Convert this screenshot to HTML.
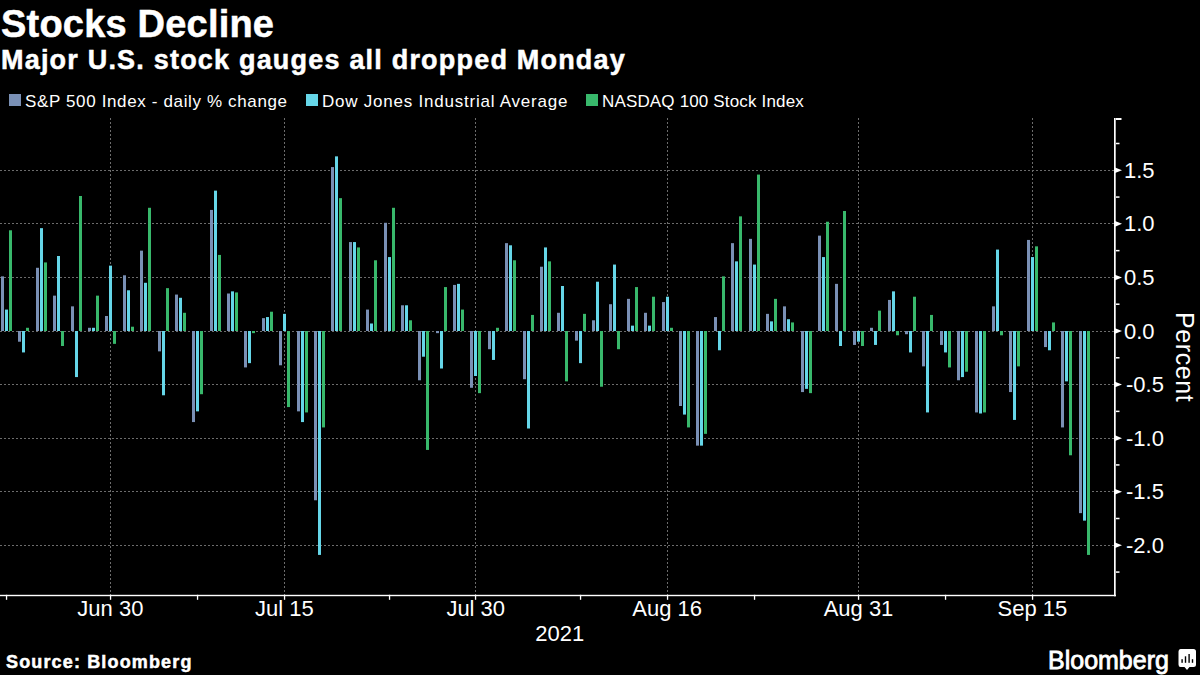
<!DOCTYPE html>
<html><head><meta charset="utf-8">
<style>
html,body{margin:0;padding:0;background:#000;width:1200px;height:675px;overflow:hidden;}
body{position:relative;font-family:"Liberation Sans",sans-serif;color:#fff;}
.t{position:absolute;white-space:nowrap;line-height:1;}
.b{-webkit-text-stroke:0.5px #fff;}
.xl{position:absolute;width:120px;text-align:center;font-size:22px;line-height:1;white-space:nowrap;}
.yl{position:absolute;font-size:22px;line-height:1;white-space:nowrap;}
svg{position:absolute;left:0;top:0;}
.sq{position:absolute;width:12px;height:12px;}
</style></head><body>
<svg width="1200" height="675" viewBox="0 0 1200 675" shape-rendering="auto">
<line x1="0" y1="170.5" x2="1114" y2="170.5" stroke="#6c6c6c" stroke-width="1" stroke-dasharray="2,2"/>
<line x1="0" y1="223.5" x2="1114" y2="223.5" stroke="#6c6c6c" stroke-width="1" stroke-dasharray="2,2"/>
<line x1="0" y1="277.5" x2="1114" y2="277.5" stroke="#6c6c6c" stroke-width="1" stroke-dasharray="2,2"/>
<line x1="0" y1="331.5" x2="1114" y2="331.5" stroke="#6c6c6c" stroke-width="1" stroke-dasharray="2,2"/>
<line x1="0" y1="384.5" x2="1114" y2="384.5" stroke="#6c6c6c" stroke-width="1" stroke-dasharray="2,2"/>
<line x1="0" y1="438.5" x2="1114" y2="438.5" stroke="#6c6c6c" stroke-width="1" stroke-dasharray="2,2"/>
<line x1="0" y1="491.5" x2="1114" y2="491.5" stroke="#6c6c6c" stroke-width="1" stroke-dasharray="2,2"/>
<line x1="0" y1="545.5" x2="1114" y2="545.5" stroke="#6c6c6c" stroke-width="1" stroke-dasharray="2,2"/>
<line x1="110.5" y1="118" x2="110.5" y2="595" stroke="#6c6c6c" stroke-width="1" stroke-dasharray="2,2"/>
<line x1="284.5" y1="118" x2="284.5" y2="595" stroke="#6c6c6c" stroke-width="1" stroke-dasharray="2,2"/>
<line x1="475.5" y1="118" x2="475.5" y2="595" stroke="#6c6c6c" stroke-width="1" stroke-dasharray="2,2"/>
<line x1="667.5" y1="118" x2="667.5" y2="595" stroke="#6c6c6c" stroke-width="1" stroke-dasharray="2,2"/>
<line x1="858.5" y1="118" x2="858.5" y2="595" stroke="#6c6c6c" stroke-width="1" stroke-dasharray="2,2"/>
<line x1="1032.5" y1="118" x2="1032.5" y2="595" stroke="#6c6c6c" stroke-width="1" stroke-dasharray="2,2"/>
<rect x="1.00" y="276.36" width="3" height="54.64" fill="#7a90b5"/>
<rect x="5.00" y="309.57" width="3" height="21.43" fill="#66d6e8"/>
<rect x="9.00" y="230.29" width="3" height="100.71" fill="#38b86b"/>
<rect x="18.00" y="331.00" width="3" height="10.71" fill="#7a90b5"/>
<rect x="22.00" y="331.00" width="3" height="21.43" fill="#66d6e8"/>
<rect x="26.00" y="327.79" width="3" height="3.21" fill="#38b86b"/>
<rect x="36.00" y="267.79" width="3" height="63.21" fill="#7a90b5"/>
<rect x="40.00" y="228.15" width="3" height="102.85" fill="#66d6e8"/>
<rect x="44.00" y="262.43" width="3" height="68.57" fill="#38b86b"/>
<rect x="53.00" y="295.64" width="3" height="35.36" fill="#7a90b5"/>
<rect x="57.00" y="256.00" width="3" height="75.00" fill="#66d6e8"/>
<rect x="61.00" y="331.00" width="3" height="15.00" fill="#38b86b"/>
<rect x="71.00" y="306.36" width="3" height="24.64" fill="#7a90b5"/>
<rect x="75.00" y="331.00" width="3" height="46.07" fill="#66d6e8"/>
<rect x="79.00" y="196.00" width="3" height="135.00" fill="#38b86b"/>
<rect x="88.00" y="327.79" width="3" height="3.21" fill="#7a90b5"/>
<rect x="92.00" y="327.79" width="3" height="3.21" fill="#66d6e8"/>
<rect x="96.00" y="295.64" width="3" height="35.36" fill="#38b86b"/>
<rect x="105.00" y="316.00" width="3" height="15.00" fill="#7a90b5"/>
<rect x="109.00" y="265.64" width="3" height="65.36" fill="#66d6e8"/>
<rect x="113.00" y="331.00" width="3" height="12.86" fill="#38b86b"/>
<rect x="123.00" y="275.29" width="3" height="55.71" fill="#7a90b5"/>
<rect x="127.00" y="290.29" width="3" height="40.71" fill="#66d6e8"/>
<rect x="131.00" y="326.71" width="3" height="4.29" fill="#38b86b"/>
<rect x="140.00" y="250.64" width="3" height="80.36" fill="#7a90b5"/>
<rect x="144.00" y="282.79" width="3" height="48.21" fill="#66d6e8"/>
<rect x="148.00" y="207.79" width="3" height="123.21" fill="#38b86b"/>
<rect x="158.00" y="331.00" width="3" height="20.36" fill="#7a90b5"/>
<rect x="162.00" y="331.00" width="3" height="64.28" fill="#66d6e8"/>
<rect x="166.00" y="288.14" width="3" height="42.86" fill="#38b86b"/>
<rect x="175.00" y="294.57" width="3" height="36.43" fill="#7a90b5"/>
<rect x="179.00" y="297.79" width="3" height="33.21" fill="#66d6e8"/>
<rect x="183.00" y="312.79" width="3" height="18.21" fill="#38b86b"/>
<rect x="192.00" y="331.00" width="3" height="91.07" fill="#7a90b5"/>
<rect x="196.00" y="331.00" width="3" height="80.36" fill="#66d6e8"/>
<rect x="200.00" y="331.00" width="3" height="63.21" fill="#38b86b"/>
<rect x="210.00" y="209.93" width="3" height="121.07" fill="#7a90b5"/>
<rect x="214.00" y="190.65" width="3" height="140.35" fill="#66d6e8"/>
<rect x="218.00" y="254.93" width="3" height="76.07" fill="#38b86b"/>
<rect x="227.00" y="293.50" width="3" height="37.50" fill="#7a90b5"/>
<rect x="231.00" y="291.36" width="3" height="39.64" fill="#66d6e8"/>
<rect x="235.00" y="292.43" width="3" height="38.57" fill="#38b86b"/>
<rect x="244.00" y="331.00" width="3" height="36.43" fill="#7a90b5"/>
<rect x="248.00" y="331.00" width="3" height="32.14" fill="#66d6e8"/>
<rect x="252.00" y="331.00" width="3" height="2.14" fill="#38b86b"/>
<rect x="262.00" y="318.14" width="3" height="12.86" fill="#7a90b5"/>
<rect x="266.00" y="317.07" width="3" height="13.93" fill="#66d6e8"/>
<rect x="270.00" y="311.71" width="3" height="19.29" fill="#38b86b"/>
<rect x="279.00" y="331.00" width="3" height="34.28" fill="#7a90b5"/>
<rect x="283.00" y="313.86" width="3" height="17.14" fill="#66d6e8"/>
<rect x="287.00" y="331.00" width="3" height="76.07" fill="#38b86b"/>
<rect x="297.00" y="331.00" width="3" height="80.36" fill="#7a90b5"/>
<rect x="301.00" y="331.00" width="3" height="91.07" fill="#66d6e8"/>
<rect x="305.00" y="331.00" width="3" height="81.43" fill="#38b86b"/>
<rect x="314.00" y="331.00" width="3" height="169.28" fill="#7a90b5"/>
<rect x="318.00" y="331.00" width="3" height="223.92" fill="#66d6e8"/>
<rect x="322.00" y="331.00" width="3" height="96.43" fill="#38b86b"/>
<rect x="331.00" y="167.08" width="3" height="163.92" fill="#7a90b5"/>
<rect x="335.00" y="156.36" width="3" height="174.64" fill="#66d6e8"/>
<rect x="339.00" y="198.15" width="3" height="132.85" fill="#38b86b"/>
<rect x="349.00" y="242.07" width="3" height="88.93" fill="#7a90b5"/>
<rect x="353.00" y="242.07" width="3" height="88.93" fill="#66d6e8"/>
<rect x="357.00" y="247.43" width="3" height="83.57" fill="#38b86b"/>
<rect x="366.00" y="309.57" width="3" height="21.43" fill="#7a90b5"/>
<rect x="370.00" y="323.50" width="3" height="7.50" fill="#66d6e8"/>
<rect x="374.00" y="260.29" width="3" height="70.71" fill="#38b86b"/>
<rect x="384.00" y="222.79" width="3" height="108.21" fill="#7a90b5"/>
<rect x="388.00" y="257.07" width="3" height="73.93" fill="#66d6e8"/>
<rect x="392.00" y="207.79" width="3" height="123.21" fill="#38b86b"/>
<rect x="401.00" y="305.29" width="3" height="25.71" fill="#7a90b5"/>
<rect x="405.00" y="305.29" width="3" height="25.71" fill="#66d6e8"/>
<rect x="409.00" y="320.29" width="3" height="10.71" fill="#38b86b"/>
<rect x="418.00" y="331.00" width="3" height="49.28" fill="#7a90b5"/>
<rect x="422.00" y="331.00" width="3" height="25.71" fill="#66d6e8"/>
<rect x="426.00" y="331.00" width="3" height="118.93" fill="#38b86b"/>
<rect x="436.00" y="331.00" width="3" height="2.14" fill="#7a90b5"/>
<rect x="440.00" y="331.00" width="3" height="37.50" fill="#66d6e8"/>
<rect x="444.00" y="287.07" width="3" height="43.93" fill="#38b86b"/>
<rect x="453.00" y="284.93" width="3" height="46.07" fill="#7a90b5"/>
<rect x="457.00" y="283.86" width="3" height="47.14" fill="#66d6e8"/>
<rect x="461.00" y="309.57" width="3" height="21.43" fill="#38b86b"/>
<rect x="470.00" y="331.00" width="3" height="56.78" fill="#7a90b5"/>
<rect x="474.00" y="331.00" width="3" height="45.00" fill="#66d6e8"/>
<rect x="478.00" y="331.00" width="3" height="62.14" fill="#38b86b"/>
<rect x="488.00" y="331.00" width="3" height="18.21" fill="#7a90b5"/>
<rect x="492.00" y="331.00" width="3" height="28.93" fill="#66d6e8"/>
<rect x="496.00" y="327.79" width="3" height="3.21" fill="#38b86b"/>
<rect x="505.00" y="243.15" width="3" height="87.85" fill="#7a90b5"/>
<rect x="509.00" y="245.29" width="3" height="85.71" fill="#66d6e8"/>
<rect x="513.00" y="260.29" width="3" height="70.71" fill="#38b86b"/>
<rect x="523.00" y="331.00" width="3" height="48.21" fill="#7a90b5"/>
<rect x="527.00" y="331.00" width="3" height="97.50" fill="#66d6e8"/>
<rect x="531.00" y="314.93" width="3" height="16.07" fill="#38b86b"/>
<rect x="540.00" y="266.72" width="3" height="64.28" fill="#7a90b5"/>
<rect x="544.00" y="247.43" width="3" height="83.57" fill="#66d6e8"/>
<rect x="548.00" y="261.36" width="3" height="69.64" fill="#38b86b"/>
<rect x="557.00" y="312.79" width="3" height="18.21" fill="#7a90b5"/>
<rect x="561.00" y="286.00" width="3" height="45.00" fill="#66d6e8"/>
<rect x="565.00" y="331.00" width="3" height="50.36" fill="#38b86b"/>
<rect x="575.00" y="331.00" width="3" height="9.64" fill="#7a90b5"/>
<rect x="579.00" y="331.00" width="3" height="32.14" fill="#66d6e8"/>
<rect x="583.00" y="313.86" width="3" height="17.14" fill="#38b86b"/>
<rect x="592.00" y="320.29" width="3" height="10.71" fill="#7a90b5"/>
<rect x="596.00" y="281.72" width="3" height="49.28" fill="#66d6e8"/>
<rect x="600.00" y="331.00" width="3" height="55.71" fill="#38b86b"/>
<rect x="609.00" y="304.21" width="3" height="26.79" fill="#7a90b5"/>
<rect x="613.00" y="264.57" width="3" height="66.43" fill="#66d6e8"/>
<rect x="617.00" y="331.00" width="3" height="18.21" fill="#38b86b"/>
<rect x="627.00" y="298.86" width="3" height="32.14" fill="#7a90b5"/>
<rect x="631.00" y="325.64" width="3" height="5.36" fill="#66d6e8"/>
<rect x="635.00" y="287.07" width="3" height="43.93" fill="#38b86b"/>
<rect x="644.00" y="312.79" width="3" height="18.21" fill="#7a90b5"/>
<rect x="648.00" y="325.64" width="3" height="5.36" fill="#66d6e8"/>
<rect x="652.00" y="296.72" width="3" height="34.28" fill="#38b86b"/>
<rect x="662.00" y="302.07" width="3" height="28.93" fill="#7a90b5"/>
<rect x="666.00" y="296.72" width="3" height="34.28" fill="#66d6e8"/>
<rect x="670.00" y="327.79" width="3" height="3.21" fill="#38b86b"/>
<rect x="679.00" y="331.00" width="3" height="75.00" fill="#7a90b5"/>
<rect x="683.00" y="331.00" width="3" height="83.57" fill="#66d6e8"/>
<rect x="687.00" y="331.00" width="3" height="96.43" fill="#38b86b"/>
<rect x="696.00" y="331.00" width="3" height="114.64" fill="#7a90b5"/>
<rect x="700.00" y="331.00" width="3" height="114.64" fill="#66d6e8"/>
<rect x="704.00" y="331.00" width="3" height="102.85" fill="#38b86b"/>
<rect x="714.00" y="317.07" width="3" height="13.93" fill="#7a90b5"/>
<rect x="718.00" y="331.00" width="3" height="19.29" fill="#66d6e8"/>
<rect x="722.00" y="276.36" width="3" height="54.64" fill="#38b86b"/>
<rect x="731.00" y="243.15" width="3" height="87.85" fill="#7a90b5"/>
<rect x="735.00" y="261.36" width="3" height="69.64" fill="#66d6e8"/>
<rect x="739.00" y="216.36" width="3" height="114.64" fill="#38b86b"/>
<rect x="749.00" y="238.86" width="3" height="92.14" fill="#7a90b5"/>
<rect x="753.00" y="264.57" width="3" height="66.43" fill="#66d6e8"/>
<rect x="757.00" y="174.58" width="3" height="156.42" fill="#38b86b"/>
<rect x="766.00" y="313.86" width="3" height="17.14" fill="#7a90b5"/>
<rect x="770.00" y="321.36" width="3" height="9.64" fill="#66d6e8"/>
<rect x="774.00" y="298.86" width="3" height="32.14" fill="#38b86b"/>
<rect x="783.00" y="306.36" width="3" height="24.64" fill="#7a90b5"/>
<rect x="787.00" y="319.21" width="3" height="11.79" fill="#66d6e8"/>
<rect x="791.00" y="322.43" width="3" height="8.57" fill="#38b86b"/>
<rect x="801.00" y="331.00" width="3" height="61.07" fill="#7a90b5"/>
<rect x="805.00" y="331.00" width="3" height="57.86" fill="#66d6e8"/>
<rect x="809.00" y="331.00" width="3" height="62.14" fill="#38b86b"/>
<rect x="818.00" y="235.65" width="3" height="95.35" fill="#7a90b5"/>
<rect x="822.00" y="257.07" width="3" height="73.93" fill="#66d6e8"/>
<rect x="826.00" y="221.72" width="3" height="109.28" fill="#38b86b"/>
<rect x="835.00" y="283.86" width="3" height="47.14" fill="#7a90b5"/>
<rect x="839.00" y="331.00" width="3" height="15.00" fill="#66d6e8"/>
<rect x="843.00" y="211.00" width="3" height="120.00" fill="#38b86b"/>
<rect x="853.00" y="331.00" width="3" height="13.93" fill="#7a90b5"/>
<rect x="857.00" y="331.00" width="3" height="10.71" fill="#66d6e8"/>
<rect x="861.00" y="331.00" width="3" height="15.00" fill="#38b86b"/>
<rect x="870.00" y="327.79" width="3" height="3.21" fill="#7a90b5"/>
<rect x="874.00" y="331.00" width="3" height="13.93" fill="#66d6e8"/>
<rect x="878.00" y="310.64" width="3" height="20.36" fill="#38b86b"/>
<rect x="888.00" y="299.93" width="3" height="31.07" fill="#7a90b5"/>
<rect x="892.00" y="291.36" width="3" height="39.64" fill="#66d6e8"/>
<rect x="896.00" y="331.00" width="3" height="4.29" fill="#38b86b"/>
<rect x="905.00" y="331.00" width="3" height="3.21" fill="#7a90b5"/>
<rect x="909.00" y="331.00" width="3" height="21.43" fill="#66d6e8"/>
<rect x="913.00" y="296.72" width="3" height="34.28" fill="#38b86b"/>
<rect x="922.00" y="331.00" width="3" height="35.36" fill="#7a90b5"/>
<rect x="926.00" y="331.00" width="3" height="81.43" fill="#66d6e8"/>
<rect x="930.00" y="314.93" width="3" height="16.07" fill="#38b86b"/>
<rect x="940.00" y="331.00" width="3" height="13.93" fill="#7a90b5"/>
<rect x="944.00" y="331.00" width="3" height="21.43" fill="#66d6e8"/>
<rect x="948.00" y="331.00" width="3" height="36.43" fill="#38b86b"/>
<rect x="957.00" y="331.00" width="3" height="49.28" fill="#7a90b5"/>
<rect x="961.00" y="331.00" width="3" height="46.07" fill="#66d6e8"/>
<rect x="965.00" y="331.00" width="3" height="40.71" fill="#38b86b"/>
<rect x="975.00" y="331.00" width="3" height="81.43" fill="#7a90b5"/>
<rect x="979.00" y="331.00" width="3" height="82.50" fill="#66d6e8"/>
<rect x="983.00" y="331.00" width="3" height="81.43" fill="#38b86b"/>
<rect x="992.00" y="306.36" width="3" height="24.64" fill="#7a90b5"/>
<rect x="996.00" y="249.57" width="3" height="81.43" fill="#66d6e8"/>
<rect x="1000.00" y="331.00" width="3" height="4.29" fill="#38b86b"/>
<rect x="1009.00" y="331.00" width="3" height="61.07" fill="#7a90b5"/>
<rect x="1013.00" y="331.00" width="3" height="88.93" fill="#66d6e8"/>
<rect x="1017.00" y="331.00" width="3" height="35.36" fill="#38b86b"/>
<rect x="1027.00" y="239.93" width="3" height="91.07" fill="#7a90b5"/>
<rect x="1031.00" y="257.07" width="3" height="73.93" fill="#66d6e8"/>
<rect x="1035.00" y="246.36" width="3" height="84.64" fill="#38b86b"/>
<rect x="1044.00" y="331.00" width="3" height="16.07" fill="#7a90b5"/>
<rect x="1048.00" y="331.00" width="3" height="19.29" fill="#66d6e8"/>
<rect x="1052.00" y="322.43" width="3" height="8.57" fill="#38b86b"/>
<rect x="1061.00" y="331.00" width="3" height="96.43" fill="#7a90b5"/>
<rect x="1065.00" y="331.00" width="3" height="50.36" fill="#66d6e8"/>
<rect x="1069.00" y="331.00" width="3" height="124.28" fill="#38b86b"/>
<rect x="1079.00" y="331.00" width="3" height="182.14" fill="#7a90b5"/>
<rect x="1083.00" y="331.00" width="3" height="189.64" fill="#66d6e8"/>
<rect x="1087.00" y="331.00" width="3" height="223.92" fill="#38b86b"/>
<rect x="1114" y="118" width="1.7" height="478.29999999999995" fill="#fff"/>
<rect x="0" y="594.8" width="1116" height="1.4" fill="#fff"/>
<rect x="1116" y="118" width="5.5" height="2" fill="#fff"/>
<rect x="1116" y="571.32" width="3.5" height="1.5" fill="#fff"/>
<rect x="1116" y="517.75" width="3.5" height="1.5" fill="#fff"/>
<rect x="1116" y="464.18" width="3.5" height="1.5" fill="#fff"/>
<rect x="1116" y="410.61" width="3.5" height="1.5" fill="#fff"/>
<rect x="1116" y="357.04" width="3.5" height="1.5" fill="#fff"/>
<rect x="1116" y="303.46" width="3.5" height="1.5" fill="#fff"/>
<rect x="1116" y="249.89" width="3.5" height="1.5" fill="#fff"/>
<rect x="1116" y="196.32" width="3.5" height="1.5" fill="#fff"/>
<rect x="1116" y="142.75" width="3.5" height="1.5" fill="#fff"/>
<path d="M1115,167.49 L1122,170.29 L1115,173.09 Z" fill="#fff"/>
<path d="M1115,221.06 L1122,223.86 L1115,226.66 Z" fill="#fff"/>
<path d="M1115,274.63 L1122,277.43 L1115,280.23 Z" fill="#fff"/>
<path d="M1115,328.20 L1122,331.00 L1115,333.80 Z" fill="#fff"/>
<path d="M1115,381.77 L1122,384.57 L1115,387.37 Z" fill="#fff"/>
<path d="M1115,435.34 L1122,438.14 L1115,440.94 Z" fill="#fff"/>
<path d="M1115,488.91 L1122,491.71 L1115,494.51 Z" fill="#fff"/>
<path d="M1115,542.48 L1122,545.28 L1115,548.08 Z" fill="#fff"/>
<rect x="109.90" y="594.8" width="1.3" height="5" fill="#fff"/>
<rect x="283.90" y="594.8" width="1.3" height="5" fill="#fff"/>
<rect x="474.90" y="594.8" width="1.3" height="5" fill="#fff"/>
<rect x="666.90" y="594.8" width="1.3" height="5" fill="#fff"/>
<rect x="857.90" y="594.8" width="1.3" height="5" fill="#fff"/>
<rect x="1031.90" y="594.8" width="1.3" height="5" fill="#fff"/>
<rect x="5.90" y="594.8" width="1.3" height="5" fill="#fff"/>
<rect x="196.90" y="594.8" width="1.3" height="5" fill="#fff"/>
<rect x="388.90" y="594.8" width="1.3" height="5" fill="#fff"/>
<rect x="579.90" y="594.8" width="1.3" height="5" fill="#fff"/>
<rect x="753.90" y="594.8" width="1.3" height="5" fill="#fff"/>
<rect x="944.90" y="594.8" width="1.3" height="5" fill="#fff"/>
</svg>
<div class="t b" style="left:1px;top:4.8px;font-size:38px;font-weight:bold;letter-spacing:0.2px">Stocks Decline</div>
<div class="t b" style="left:1px;top:47.1px;font-size:27px;font-weight:bold;letter-spacing:1.2px">Major U.S. stock gauges all dropped Monday</div>
<div class="sq" style="left:9px;top:94px;background:#7a90b5"></div>
<div class="sq" style="left:306px;top:94px;background:#66d6e8"></div>
<div class="sq" style="left:586px;top:94px;background:#38b86b"></div>
<div class="t" style="left:25px;top:92.8px;font-size:17px;letter-spacing:0.64px">S&amp;P 500 Index - daily % change</div>
<div class="t" style="left:322px;top:92.8px;font-size:17px;letter-spacing:0.77px">Dow Jones Industrial Average</div>
<div class="t" style="left:602px;top:92.8px;font-size:17px;letter-spacing:0.16px">NASDAQ 100 Stock Index</div>
<div class="xl" style="left:50.39px;top:598.1px">Jun 30</div>
<div class="xl" style="left:224.37px;top:598.1px">Jul 15</div>
<div class="xl" style="left:415.74px;top:598.1px">Jul 30</div>
<div class="xl" style="left:607.12px;top:598.1px">Aug 16</div>
<div class="xl" style="left:798.50px;top:598.1px">Aug 31</div>
<div class="xl" style="left:972.48px;top:598.1px">Sep 15</div>
<div class="xl" style="left:499.70px;top:623.1px">2021</div>
<div class="yl" style="left:1124px;top:159.79px">1.5</div>
<div class="yl" style="left:1124px;top:213.36px">1.0</div>
<div class="yl" style="left:1124px;top:266.93px">0.5</div>
<div class="yl" style="left:1124px;top:320.50px">0.0</div>
<div class="yl" style="left:1126px;top:374.07px">-0.5</div>
<div class="yl" style="left:1126px;top:427.64px">-1.0</div>
<div class="yl" style="left:1126px;top:481.21px">-1.5</div>
<div class="yl" style="left:1126px;top:534.78px">-2.0</div>
<div class="t" style="left:1197px;top:312px;font-size:25px;letter-spacing:0.6px;transform-origin:0 0;transform:rotate(90deg)">Percent</div>
<div class="t b" style="left:6px;top:652.8px;font-size:18px;font-weight:bold;letter-spacing:1.15px">Source: Bloomberg</div>
<div class="t" style="left:1048px;top:647.5px;font-size:25px;-webkit-text-stroke:0.8px #fff">Bloomberg</div>
<svg width="20" height="24" viewBox="0 0 20 24" style="left:1178px;top:648px">
<path d="M2.5,1 H15.5 Q18,1 18,3.5 V16.5 Q18,19 15.5,19 H11.5 L9,22 L6.5,19 H2.5 Q0.5,19 0.5,16.5 V3.5 Q0.5,1 2.5,1 Z" fill="#fff"/>
<rect x="3.4" y="11.2" width="1.4" height="3.6" fill="#000"/>
<rect x="6.8" y="8.3" width="1.4" height="6.5" fill="#000"/>
<rect x="10.4" y="6" width="1.4" height="8.8" fill="#000"/>
<rect x="13.8" y="11.2" width="1.4" height="3.6" fill="#000"/>
</svg>
</body></html>
